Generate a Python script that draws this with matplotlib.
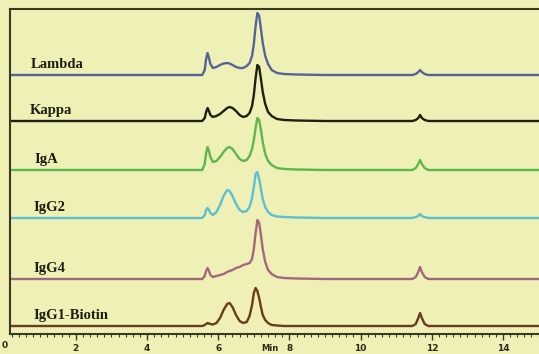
import matplotlib
matplotlib.use("Agg")
import matplotlib.pyplot as plt
from matplotlib.ticker import MultipleLocator

# retention time grid (min) shared by all traces
times = [0.15, 5.55, 5.62, 5.66, 5.70, 5.74, 5.78, 5.85, 5.95, 6.05, 6.15, 6.25, 6.32,
         6.40, 6.50, 6.60, 6.70, 6.80, 6.88, 6.95, 7.00, 7.05, 7.10, 7.15, 7.20, 7.25,
         7.32, 7.40, 7.50, 7.65, 7.85, 8.2, 9.0, 11.45, 11.55, 11.62, 11.67, 11.72,
         11.80, 11.90, 15.18]

# signal for each sample
lambda_sig = [0, 0, 5, 16, 22, 17, 11, 7, 8, 10, 11.5, 12, 11.5, 10, 8, 7, 7, 9, 12, 19,
              31, 49, 62, 59, 46, 32, 19, 11, 5, 2, 1, 0.5, 0, 0, 1, 3, 5, 3, 1, 0, 0]
kappa_sig = [0, 0, 3, 9, 13, 10, 6, 4, 5, 7, 10, 13, 14, 13, 10, 6, 4, 5, 8, 15,
             26, 43, 56, 54, 42, 29, 17, 9, 5, 2, 1, 0.5, 0, 0, 1, 3, 6, 3, 1, 0, 0]
iga_sig = [0, 0, 6, 17, 23, 19, 13, 8, 9, 13, 18, 22, 23, 21, 16, 11, 9, 10, 14, 21,
           30, 42, 52, 50, 40, 28, 16, 9, 5, 2, 1, 0.5, 0, 0, 2, 6, 10, 6, 2, 0, 0]
igg2_sig = [0, 0, 3, 8, 10, 8, 5, 3, 6, 13, 22, 28, 27, 22, 14, 8, 6, 7, 11, 20,
            31, 44, 46, 39, 29, 19, 11, 6, 3, 1.5, 1, 0.5, 0, 0, 1, 2, 4, 2, 1, 0, 0]
igg4_sig = [0, 0, 3, 8, 11, 8, 4, 2, 3, 4, 5, 7, 8, 9, 11, 12, 14, 15, 16, 20,
            30, 46, 59, 56, 44, 30, 17, 9, 5, 2, 1, 0.5, 0, 0, 2, 7, 12, 7, 2, 0, 0]
igg1_sig = [0, 0, 1, 2, 3, 2.5, 2, 1.5, 3, 8, 16, 22, 23, 19, 11, 5, 3, 4, 10, 21,
            33, 38, 35, 28, 19, 11, 6, 3, 1, 0.5, 0, 0, 0, 0, 2, 8, 13, 8, 2, 0, 0]

names = ["Lambda", "Kappa", "IgA", "IgG2", "IgG4", "IgG1-Biotin"]
signals = [lambda_sig, kappa_sig, iga_sig, igg2_sig, igg4_sig, igg1_sig]

# stacking offsets and looks
offsets = [259, 213, 164, 116, 55, 8]
colors = ["#56639a", "#1f1f14", "#5cb84a", "#5cc0d0", "#a4687e", "#6a3b1c"]
label_x = [0.74, 0.71, 0.85, 0.80, 0.80, 0.80]

bg = "#eef0b6"
fig = plt.figure(figsize=(5.39, 3.54), dpi=100, facecolor=bg)
ax = fig.add_axes([10 / 539, 20 / 354, 535 / 539, 325 / 354], facecolor=bg)

for name, sig, off, c, lx in zip(names, signals, offsets, colors, label_x):
    y = [off + s for s in sig]
    ax.plot(times, y, color=c, lw=1.7, solid_joinstyle="round")
    ax.text(lx, off + 7, name, fontsize=10.5, fontweight="bold",
            family="Liberation Serif", color="#1e1e10", va="baseline")

ax.set_xlim(0.15, 15.18)
ax.set_ylim(0, 325)
ax.set_yticks([])
ax.xaxis.set_major_locator(MultipleLocator(2))
ax.xaxis.set_minor_locator(MultipleLocator(0.2))
ax.tick_params(axis="x", which="major", length=4, width=1, color="#3a3a22",
               labelsize=6.5, labelcolor="#2a2a18", pad=3)
ax.tick_params(axis="x", which="minor", length=2.5, width=0.8, color="#3a3a22")
for lab in ax.get_xticklabels():
    lab.set_fontweight("bold")
ax.text(0.0, -12, "0", fontsize=6.5, fontweight="bold", color="#2a2a18",
        ha="center", va="center", clip_on=False)
# axis title sits low, just under the tick labels
ax.text(7.45, -14.5, "Min", fontsize=6, fontweight="bold", color="#2a2a18",
        ha="center", va="center", clip_on=False)

for sp in ax.spines.values():
    sp.set_color("#3a3a22")
    sp.set_linewidth(1.5)

fig.savefig("out.png", dpi=100, facecolor=bg)
